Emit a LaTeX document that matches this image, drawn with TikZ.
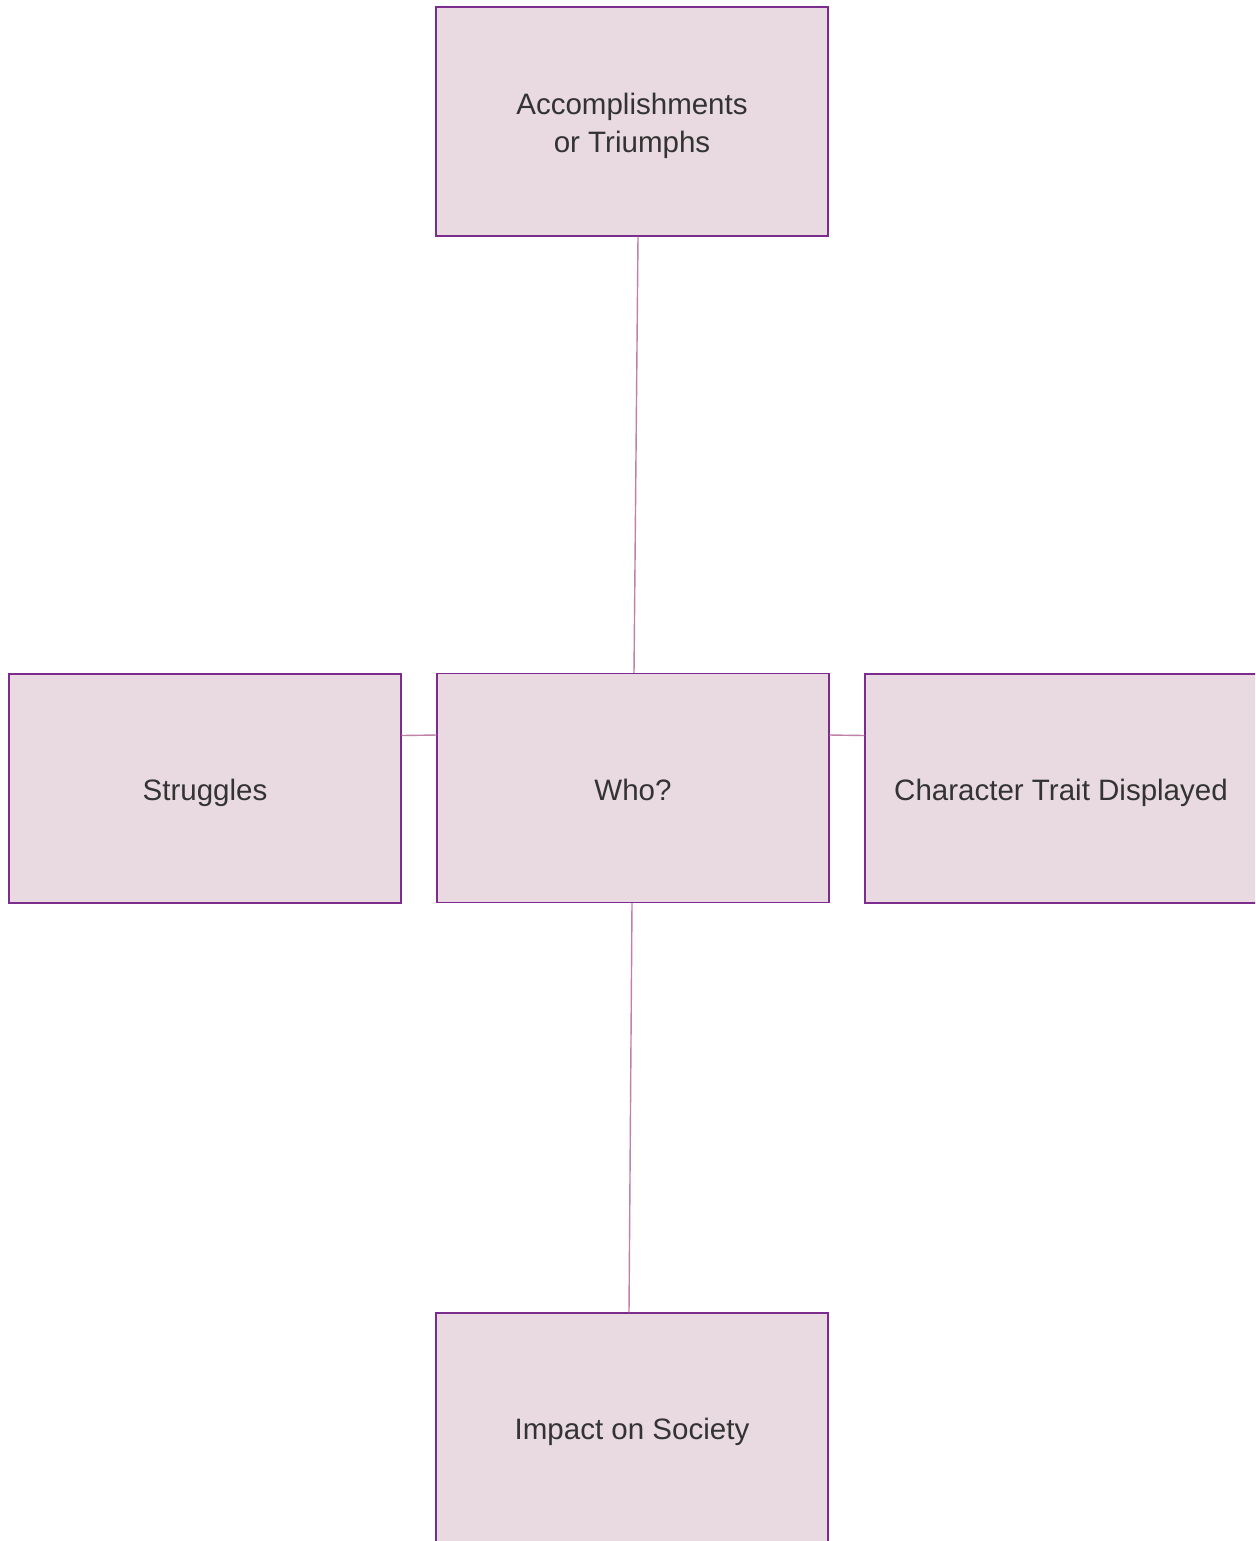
\documentclass[tikz,border=0pt]{standalone}
\usepackage{fontspec}
\setmainfont{Liberation Sans}
\usepackage{tikz}
\usetikzlibrary{positioning}
\definecolor{boxfill}{HTML}{E8DAE0}
\definecolor{boxline}{HTML}{7B2C8C}
\definecolor{linkline}{HTML}{C080A8}
\definecolor{txt}{HTML}{333333}
\tikzset{
  topicbox/.style={draw=boxline, fill=boxfill, line width=0.8pt,
    minimum width=7.84cm, minimum height=4.58cm, inner sep=0pt,
    text height=0.6cm, text depth=0.12cm,
    align=center, text=txt, font=\fontsize{16.8}{21.6}\selectfont},
  link/.style={draw=linkline, line width=0.8pt}
}
\begin{document}
\begin{tikzpicture}[x=0.02cm, y=-0.02cm]
\useasboundingbox (0,0) rectangle (1255,1541);
\clip (0,0) rectangle (1255,1541);
% the five boxes
\node[topicbox, text height=1.36cm] (triumph) at (632,121.5) {Accomplishments\\or Triumphs};
\node[topicbox] (who) at (633,788) {Who?};
\node[topicbox] (struggle) at (205,788.5) {Struggles};
\node[topicbox] (trait) at (1061,788.5) {Character Trait Displayed};
\node[topicbox] (impact) at (632,1427.5) {Impact on Society};

% links to the centre
\draw[link] ([xshift=0.12cm]triumph.south) -- ([xshift=0.02cm]who.north);
\draw[link] ([xshift=-0.02cm]who.south) -- ([xshift=-0.06cm]impact.north);
\draw[link] ([yshift=1.06cm]struggle.east) -- ([yshift=1.06cm]who.west);
\draw[link] ([yshift=1.06cm]who.east) -- ([yshift=1.06cm]trait.west);
\end{tikzpicture}
\end{document}
